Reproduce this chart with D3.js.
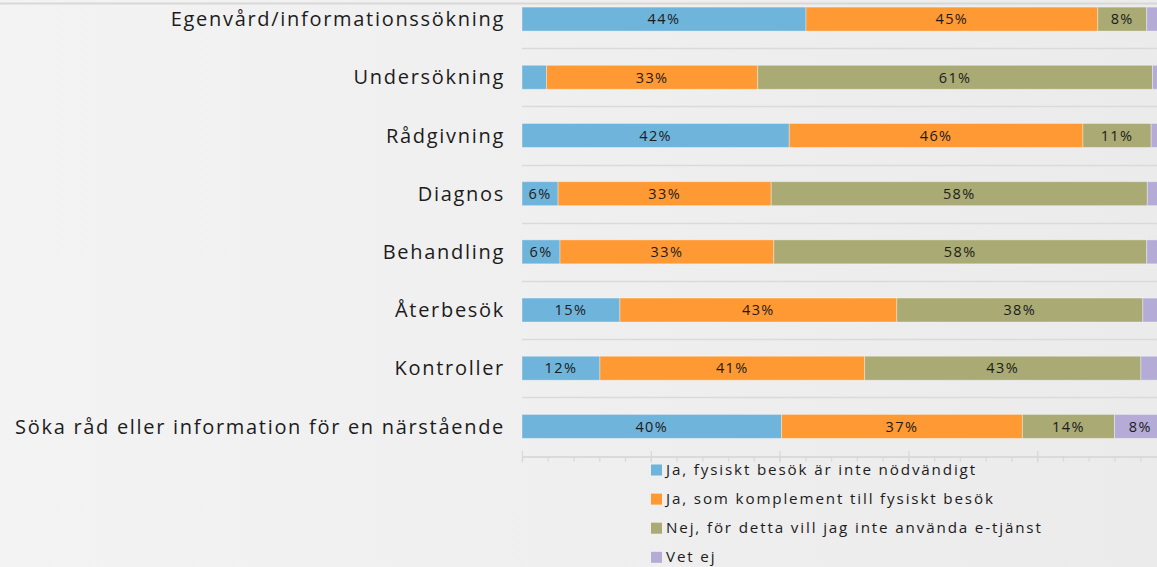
<!DOCTYPE html>
<html>
<head>
<meta charset="utf-8">
<script src="https://cdn.jsdelivr.net/npm/d3@7"></script>
<style>
  html, body { margin: 0; padding: 0; overflow: hidden; }
  body { width: 1157px; height: 567px; }
  text { font-family: "Open Sans", "Noto Sans", sans-serif; fill: #1c1c1c; }
</style>
</head>
<body>
<svg id="chart" width="1157" height="567"></svg>
<script>
// categories, top to bottom
const categories = [
    'Egenvård/informationssökning',
    'Undersökning',
    'Rådgivning',
    'Diagnos',
    'Behandling',
    'Återbesök',
    'Kontroller',
    'Söka råd eller information för en närstående'
];

const seriesNames = [
    'Ja, fysiskt besök är inte nödvändigt',
    'Ja, som komplement till fysiskt besök',
    'Nej, för detta vill jag inte använda e-tjänst',
    'Vet ej'
];

const seriesColors = ['#6fb4da', '#ff9933', '#a9aa74', '#b4acd6'];

// percent per category
const jaFysiskt    = [44.1,  3.8, 41.5,  5.6,  5.9, 15.2, 12.1, 40.3];
const jaKomplement = [45.3, 32.8, 45.6, 33.1, 33.2, 43.0, 41.1, 37.4];
const nejEtjanst   = [ 7.6, 61.3, 10.6, 58.4, 57.9, 38.2, 42.9, 14.3];
const vetEj        = [ 3.0,  2.1,  2.3,  2.9,  3.0,  3.6,  3.9,  8.0];

const majorTicks = [0, 20, 40, 60, 80, 100];
const minorTicks = d3.range(0, 101, 4);

const W = 1157, H = 567;
const svg = d3.select('#chart');

// background
let defs = svg.append('defs');
let grad = defs.append('linearGradient').attr('id', 'bg').attr('x1', 0).attr('x2', 1).attr('y1', 0).attr('y2', 0);
grad.append('stop').attr('offset', '0%').attr('stop-color', '#f3f3f3');
grad.append('stop').attr('offset', '100%').attr('stop-color', '#ebebeb');
svg.append('rect').attr('width', W).attr('height', H).attr('fill', 'url(#bg)');

svg.append('line')
    .attr('x1', 0).attr('x2', W)
    .attr('y1', 3.5).attr('y2', 3.5)
    .style('stroke', '#d8d8d8')
    .style('stroke-width', 2);

let x = d3.scaleLinear().domain([0, 100]).range([522, 1166]);
let y = d3.scaleBand().domain(categories).range([-10, 455.5])
    .paddingInner(0.588).paddingOuter(0.294);

let gap = (y.step() - y.bandwidth()) / 2;

// gridlines between categories
svg.append('g').selectAll('line')
    .data(categories)
    .enter()
    .append('line')
    .attr('x1', x(0))
    .attr('x2', W)
    .attr('y1', d => Math.round(y(d) - gap) + 0.5)
    .attr('y2', d => Math.round(y(d) - gap) + 0.5)
    .style('stroke', '#dadada')
    .style('stroke-width', 1.3);

// stacked data
let rows = categories.map((c, i) => ({
    cat: c,
    s0: jaFysiskt[i],
    s1: jaKomplement[i],
    s2: nejEtjanst[i],
    s3: vetEj[i]
}));
let stack = d3.stack().keys(['s0', 's1', 's2', 's3']);
let layers = stack(rows);

let layerG = svg.append('g').selectAll('g')
    .data(layers)
    .enter()
    .append('g')
    .style('fill', (d, i) => seriesColors[i]);

layerG.selectAll('rect')
    .data(d => d)
    .enter()
    .append('rect')
    .attr('x', d => x(d[0]))
    .attr('y', d => y(d.data.cat))
    .attr('width', d => x(d[1]) - x(d[0]))
    .attr('height', y.bandwidth())
    .style('stroke', 'rgba(255,255,255,0.35)')
    .style('stroke-width', 1);

// value labels
layerG.selectAll('text')
    .data(d => d.filter(p => (p[1] - p[0]) >= 5))
    .enter()
    .append('text')
    .attr('x', d => (x(d[0]) + x(d[1])) / 2)
    .attr('y', d => y(d.data.cat) + y.bandwidth() / 2)
    .attr('text-anchor', 'middle')
    .attr('dy', '0.36em')
    .style('font-size', '14.5px')
    .style('letter-spacing', '1.4px')
    .text(d => Math.round(d[1] - d[0]) + '%');

// category labels
svg.append('g').selectAll('text')
    .data(categories)
    .enter()
    .append('text')
    .attr('x', 505)
    .attr('y', d => y(d) + y.bandwidth() / 2)
    .attr('text-anchor', 'end')
    .attr('dy', '0.36em')
    .style('font-size', '20px')
    .style('letter-spacing', '1.7px')
    .text(d => d);

// x axis: major and minor ticks, no labels
let axisY = Math.round(y.range()[1]) + 0.5;
let minorAxis = svg.append('g')
    .attr('transform', 'translate(0,' + axisY + ')')
    .call(d3.axisBottom(x).tickValues(minorTicks).tickSizeInner(5).tickSizeOuter(0).tickFormat(''));
let majorAxis = svg.append('g')
    .attr('transform', 'translate(0,' + axisY + ')')
    .call(d3.axisBottom(x).tickValues(majorTicks).tickSizeInner(6).tickSizeOuter(0).tickFormat(''));
majorAxis.selectAll('.tick line').attr('y1', -5.5);
[minorAxis, majorAxis].forEach(a => {
    a.select('.domain').style('stroke', '#d9d9d9').style('stroke-width', 1.3);
    a.selectAll('.tick line').style('stroke', '#d9d9d9').style('stroke-width', 1.3);
});

// legend
let legend = svg.append('g').selectAll('g')
    .data(seriesNames)
    .enter()
    .append('g')
    .attr('transform', (d, i) => 'translate(651,' + (470 + i * 29.1) + ')');

legend.append('rect')
    .attr('x', 0)
    .attr('y', -5.5)
    .attr('width', 11)
    .attr('height', 11)
    .style('fill', (d, i) => seriesColors[i]);

legend.append('text')
    .attr('x', 15)
    .attr('y', 0)
    .attr('dy', '0.34em')
    .style('font-size', '15.2px')
    .style('letter-spacing', '1.85px')
    .text(d => d);
</script>
</body>
</html>
